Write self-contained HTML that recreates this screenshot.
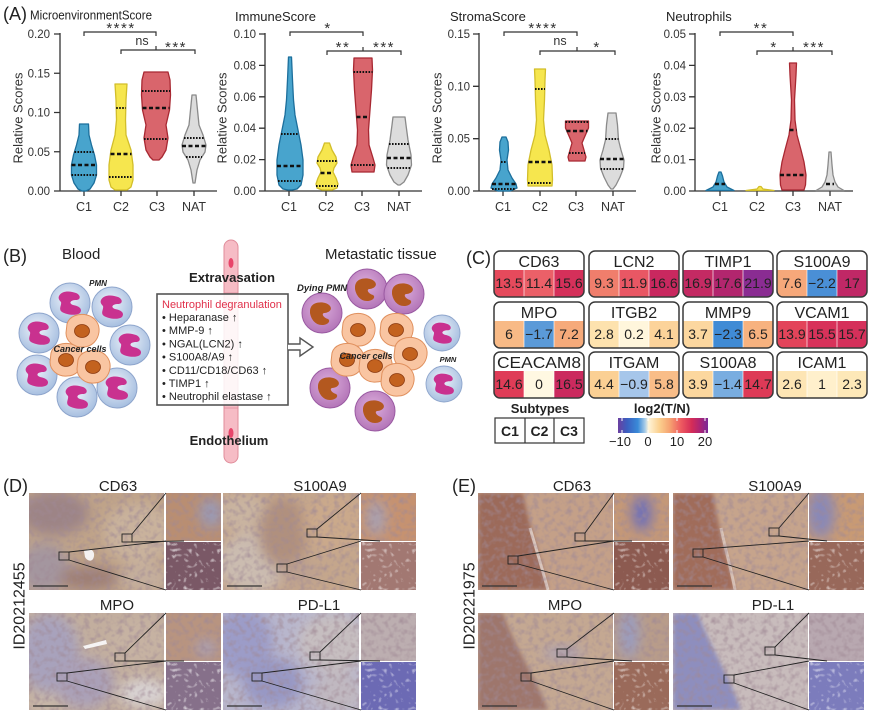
<!DOCTYPE html>
<html><head><meta charset="utf-8">
<style>
html,body{margin:0;padding:0;background:#fff;}
body{width:869px;height:713px;overflow:hidden;}
svg{display:block;font-family:"Liberation Sans",Arial,sans-serif;}
</style></head><body>
<svg width="869" height="713" viewBox="0 0 869 713" xmlns="http://www.w3.org/2000/svg">
<defs>
 <radialGradient id="gb" cx="45%" cy="40%" r="60%"><stop offset="0" stop-color="#eef3fa"/><stop offset="1" stop-color="#a7bfe0"/></radialGradient>
 <radialGradient id="gp" cx="45%" cy="40%" r="60%"><stop offset="0" stop-color="#dcaedc"/><stop offset="1" stop-color="#b476b8"/></radialGradient>
 <linearGradient id="cbar" x1="0" x2="1" y1="0" y2="0">
  <stop offset="0" stop-color="#6b3fa0"/><stop offset="0.1" stop-color="#3b5fc0"/><stop offset="0.22" stop-color="#3a8ad8"/>
  <stop offset="0.3" stop-color="#a8cce8"/><stop offset="0.34" stop-color="#fff4d8"/><stop offset="0.46" stop-color="#fbd08e"/>
  <stop offset="0.58" stop-color="#f5a070"/><stop offset="0.7" stop-color="#ee5a60"/><stop offset="0.82" stop-color="#d42c58"/>
  <stop offset="0.92" stop-color="#a82478"/><stop offset="1" stop-color="#7a2a98"/>
 </linearGradient>
 <filter id="bl" x="-50%" y="-50%" width="200%" height="200%"><feGaussianBlur stdDeviation="6"/></filter>
 <filter id="bl2" x="-20%" y="-20%" width="140%" height="140%"><feGaussianBlur stdDeviation="2"/></filter>
 <filter id="nz" x="0" y="0" width="100%" height="100%">
  <feTurbulence type="fractalNoise" baseFrequency="0.18" numOctaves="2" seed="2"/>
  <feColorMatrix type="matrix" values="0 0 0 0 0.35  0 0 0 0 0.25  0 0 0 0 0.3  1.6 0 0 0 -0.7"/>
 </filter>
 <filter id="spk" x="0" y="0" width="100%" height="100%">
  <feTurbulence type="turbulence" baseFrequency="0.18" numOctaves="1" seed="5"/>
  <feColorMatrix type="matrix" values="0 0 0 0 1  0 0 0 0 1  0 0 0 0 1  3 0 0 0 -0.8"/>
 </filter>
 <g id="pmnB"><circle r="20" fill="url(#gb)" stroke="#8ea5cc" stroke-width="1"/><path d="M-11,-7 C-8,-13 1,-12 6,-10 C11,-8 11,-3 6,-3 C1,-3 -2,0 3,2 C9,3 13,6 10,10 C6,13 -3,12 -8,9 C-12,6 -8,2 -9,-1 C-11,-3 -12,-5 -11,-7 Z" fill="#c9318f"/></g>
 <g id="pmnP"><circle r="20" fill="url(#gp)" stroke="#9a5aa2" stroke-width="1"/><path d="M-11,-6 C-8,-12 4,-12 8,-7 C11,-3 6,0 2,0 C-1,1 2,5 6,6 C9,8 6,12 0,12 C-7,12 -11,6 -12,0 C-12,-3 -12,-4 -11,-6 Z" fill="#b3581f"/></g>
 <g id="cc"><path d="M-15,-7 C-13,-15 -3,-18 5,-16 C13,-14 18,-7 17,1 C16,9 10,16 1,16 C-8,17 -16,10 -16,2 Z" fill="#f9c5a2" stroke="#e0905e" stroke-width="1"/><ellipse cx="0" cy="0" rx="7.5" ry="6.5" fill="#c3621f" stroke="#8c3a10" stroke-width="0.8"/></g>
 <clipPath id="k1"><rect x="494" y="251" width="90" height="46" rx="6"/></clipPath>
 <clipPath id="k2"><rect x="589" y="251" width="90" height="46" rx="6"/></clipPath>
 <clipPath id="k3"><rect x="683" y="251" width="90" height="46" rx="6"/></clipPath>
 <clipPath id="k4"><rect x="777" y="251" width="90" height="46" rx="6"/></clipPath>
 <clipPath id="k5"><rect x="494" y="302" width="90" height="46" rx="6"/></clipPath>
 <clipPath id="k6"><rect x="589" y="302" width="90" height="46" rx="6"/></clipPath>
 <clipPath id="k7"><rect x="683" y="302" width="90" height="46" rx="6"/></clipPath>
 <clipPath id="k8"><rect x="777" y="302" width="90" height="46" rx="6"/></clipPath>
 <clipPath id="k9"><rect x="494" y="352" width="90" height="46" rx="6"/></clipPath>
 <clipPath id="k10"><rect x="589" y="352" width="90" height="46" rx="6"/></clipPath>
 <clipPath id="k11"><rect x="683" y="352" width="90" height="46" rx="6"/></clipPath>
 <clipPath id="k12"><rect x="777" y="352" width="90" height="46" rx="6"/></clipPath>
</defs>

<!-- ================= PANEL A ================= -->
<text x="3" y="20" font-size="18" fill="#222">(A)</text>
<text x="30" y="19.5" font-size="13" fill="#222" textLength="122" lengthAdjust="spacingAndGlyphs">MicroenvironmentScore</text>
<text x="235" y="21" font-size="13" fill="#222">ImmuneScore</text>
<text x="450" y="21" font-size="13" fill="#222">StromaScore</text>
<text x="666" y="21" font-size="13" fill="#222">Neutrophils</text>

<g font-size="13" fill="#333">
 <text transform="translate(18,118) rotate(-90)" text-anchor="middle" dominant-baseline="central">Relative Scores</text>
 <text transform="translate(222,118) rotate(-90)" text-anchor="middle" dominant-baseline="central">Relative Scores</text>
 <text transform="translate(437,118) rotate(-90)" text-anchor="middle" dominant-baseline="central">Relative Scores</text>
 <text transform="translate(656,118) rotate(-90)" text-anchor="middle" dominant-baseline="central">Relative Scores</text>
</g>

<g font-size="11.5" fill="#333" text-anchor="end">
 <text x="50" y="38">0.20</text><text x="50" y="77.3">0.15</text><text x="50" y="116.5">0.10</text><text x="50" y="155.8">0.05</text><text x="50" y="195">0.00</text>
 <text x="256" y="38">0.10</text><text x="256" y="69.4">0.08</text><text x="256" y="100.8">0.06</text><text x="256" y="132.2">0.04</text><text x="256" y="163.6">0.02</text><text x="256" y="195">0.00</text>
 <text x="470" y="38">0.15</text><text x="470" y="90.3">0.10</text><text x="470" y="142.7">0.05</text><text x="470" y="195">0.00</text>
 <text x="686" y="38">0.05</text><text x="686" y="69.4">0.04</text><text x="686" y="100.8">0.03</text><text x="686" y="132.2">0.02</text><text x="686" y="163.6">0.01</text><text x="686" y="195">0.00</text>
</g>

<g stroke="#333" stroke-width="1.3" fill="none">
 <path d="M60,33 V191 H217 M54,34 H60 M54,73.25 H60 M54,112.5 H60 M54,151.75 H60 M54,191 H60 M84,191 V196 M121,191 V196 M157,191 V196 M194,191 V196"/>
 <path d="M265,33 V191 H422 M259,34 H265 M259,65.4 H265 M259,96.8 H265 M259,128.2 H265 M259,159.6 H265 M259,191 H265 M289,191 V196 M326,191 V196 M362,191 V196 M399,191 V196"/>
 <path d="M479,33 V191 H636 M473,34 H479 M473,86.3 H479 M473,138.7 H479 M473,191 H479 M503,191 V196 M540,191 V196 M576,191 V196 M613,191 V196"/>
 <path d="M695,33 V191 H853 M689,34 H695 M689,65.4 H695 M689,96.8 H695 M689,128.2 H695 M689,159.6 H695 M689,191 H695 M720,191 V196 M757,191 V196 M793,191 V196 M830,191 V196"/>
</g>

<g font-size="12.5" fill="#333" text-anchor="middle">
 <text x="84" y="211">C1</text><text x="121" y="211">C2</text><text x="157" y="211">C3</text><text x="194" y="211">NAT</text>
 <text x="289" y="211">C1</text><text x="326" y="211">C2</text><text x="362" y="211">C3</text><text x="399" y="211">NAT</text>
 <text x="503" y="211">C1</text><text x="540" y="211">C2</text><text x="576" y="211">C3</text><text x="613" y="211">NAT</text>
 <text x="720" y="211">C1</text><text x="757" y="211">C2</text><text x="793" y="211">C3</text><text x="830" y="211">NAT</text>
</g>

<!-- brackets -->
<g stroke="#333" stroke-width="1.2" fill="none">
 <path d="M84,36 V32 H156 V36"/><path d="M121,54 V50 H195 V54 M156,50 V46"/>
 <path d="M290,36 V32 H363 V36"/><path d="M327,55 V51 H401 V55 M363,51 V47"/>
 <path d="M504,36 V32 H577 V36"/><path d="M540,55 V51 H615 V55 M577,51 V47"/>
 <path d="M720,36 V32 H793 V36"/><path d="M757,55 V51 H832 V55 M793,51 V47"/>
</g>
<g font-size="15" fill="#333" text-anchor="middle" letter-spacing="1.5">
 <text x="121" y="33">****</text><text x="176" y="52">***</text>
 <text x="328" y="33">*</text><text x="343" y="52">**</text><text x="384" y="52">***</text>
 <text x="543" y="33">****</text><text x="597" y="52">*</text>
 <text x="761" y="33">**</text><text x="774" y="52">*</text><text x="814" y="52">***</text>
</g>
<g font-size="12.5" fill="#333" text-anchor="middle">
 <text x="142" y="45">ns</text><text x="560" y="45">ns</text>
</g>

<!-- violins -->
<g stroke-width="1.3" stroke-linejoin="round">
 <path fill="#48a4cd" stroke="#1c6f9c" d="M79.5,124 L79,135 76.5,145 73.5,155 71.5,165 71.5,175 74,183 78,189 82,191 86,191 90,189 94,183 96.5,175 96.5,165 94.5,155 91.5,145 89,135 88.5,124 Z"/>
 <path fill="#f6e64e" stroke="#d2be2a" d="M115,84 L116,100 116.5,120 115,135 111,150 109,165 109,180 111,187 115,190 127,190 131,187 133,180 133,165 131,150 126,135 125.5,120 126,100 127,84 Z"/>
 <path fill="#d9656c" stroke="#a82832" d="M144,72 L142,80 141.5,95 142.5,110 146,125 144,138 146,150 150,157 153,160 159,160 162,157 166,150 168,138 166,125 169.5,110 170.5,95 170,80 168,72 Z"/>
 <path fill="#dcdcdc" stroke="#8a8a8a" d="M192,95 L190.5,110 189,125 185,135 182,145 183,152 188,160 191,170 193,183 195,183 197,170 200,160 205,152 206,145 203,135 199,125 197.5,110 196,95 Z"/>

 <path fill="#48a4cd" stroke="#1c6f9c" d="M288.5,57 L287.5,80 286.5,100 285,115 282,130 279,145 277,160 277,175 279,185 283,189 288,190 292,190 297,189 301,185 303,175 303,160 301,145 298,130 295,115 293.5,100 292.5,80 291.5,57 Z"/>
 <path fill="#f6e64e" stroke="#d2be2a" d="M324.5,143 L322,150 318,157 317,163 320,168 321,172 318,178 316,184 317,188 322,190 332,190 337,188 338,184 336,178 333,172 334,168 337,163 336,157 332,150 329.5,143 Z"/>
 <path fill="#d9656c" stroke="#a82832" d="M354,58 L353.5,70 354.5,90 356,110 357.5,130 357,145 353,158 351,165 352,172 374,172 375,165 373,158 369,145 368.5,130 370,110 371.5,90 372.5,70 372,58 Z"/>
 <path fill="#dcdcdc" stroke="#8a8a8a" d="M393,117 L392,125 390,140 387,155 386.5,165 390,175 394,182 398,185 400,185 404,182 408,175 411.5,165 411,155 408,140 406,125 405,117 Z"/>

 <path fill="#48a4cd" stroke="#1c6f9c" transform="translate(-5,0)" d="M507,137 L505,142 504.5,150 506,160 505,170 501,178 497,184 496,188 503,191 515,191 522,188 521,184 517,178 513,170 512,160 513.5,150 513,142 511,137 Z"/>
 <path fill="#f6e64e" stroke="#d2be2a" d="M534.5,69 L535,80 535.5,100 536.5,120 535,135 531,150 528,165 527.5,180 528,186 552,186 552.5,180 552,165 549,150 545,135 543.5,120 544.5,100 545,80 545.5,69 Z"/>
 <path fill="#d9656c" stroke="#a82832" d="M565.5,121 L565.5,128 569,136 572,143 570,150 568,157 569,161 585,161 586,157 584,150 582,143 585,136 588.5,128 588.5,121 Z"/>
 <path fill="#dcdcdc" stroke="#8a8a8a" d="M608,113 L606.5,125 605.5,140 603,150 600,160 600.5,168 604,177 608,185 611,189 613,189 616,185 620,177 623.5,168 624,160 621,150 618.5,140 617.5,125 616,113 Z"/>

 <path fill="#48a4cd" stroke="#1c6f9c" d="M719,172 L717.5,176 716,182 713,187 706,190.5 734,190.5 727,187 724,182 722.5,176 721,172 Z"/>
 <path fill="#f6e64e" stroke="#d2be2a" d="M746,190.5 L757,189 759,186.5 761,186.5 763,189 774,190.5 Z"/>
 <path fill="#d9656c" stroke="#a82832" d="M789.5,63 L790,75 791.5,100 791,120 789,135 785,150 782,162 780,175 780.5,185 782,190 804,190 805.5,185 806,175 804,162 801,150 797,135 795,120 794.5,100 796,75 796.5,63 Z"/>
 <path fill="#dcdcdc" stroke="#8a8a8a" d="M829,152 L828,165 827,175 825,182 822,187 816,190.5 844,190.5 838,187 835,182 833,175 832,165 831,152 Z"/>
</g>
<!-- quartile lines -->
<g stroke="#111" fill="none">
 <path stroke-width="2" stroke-dasharray="1.6 1.4" d="M74.5,152 H93.5 M71.5,175 H96.5 M116.2,108 H125.8 M109,177 H133 M142,91 H170 M144,139 H168 M184,138 H204 M186,157 H202
 M281,134 H299 M278,181 H302 M317,161 H337 M316,186 H338 M353.5,72 H372.5 M351,165 H375 M389,144 H409 M387.5,168 H410.5
 M501,162 H507 M492,189 H516 M535,89 H545 M528,183 H552 M565.5,122 H588.5 M569,153 H585 M605.5,139 H618.5 M600.5,169 H623.5"/>
 <path stroke-width="2.6" stroke-dasharray="4 2.5" d="M71.5,165 H96.5 M110.5,154 H131.5 M142.5,108 H169.5 M182,146 H206
 M277,166 H303 M320.5,173 H333.5 M356.5,117 H369.5 M387,158 H411
 M492,184 H516 M528.5,162 H551.5 M566.5,131 H587.5 M600,159 H624
 M715,184 H725 M789.5,130 H796.5 M780,175 H806 M826,184 H834"/>
</g>

<!-- ================= PANEL B ================= -->
<text x="3" y="262" font-size="18" fill="#222">(B)</text>
<text x="62" y="259" font-size="15" fill="#222">Blood</text>
<text x="325" y="259" font-size="15" fill="#222">Metastatic tissue</text>

<!-- vessel -->
<rect x="224" y="240" width="14" height="223" rx="7" fill="#f6bcc5" stroke="#e08c9a" stroke-width="1"/>
<line x1="224" y1="293" x2="238" y2="293" stroke="#e08c9a" stroke-width="0.8"/>
<line x1="224" y1="408" x2="238" y2="408" stroke="#e08c9a" stroke-width="0.8"/>
<ellipse cx="231" cy="263" rx="2.5" ry="5" fill="#e8456a"/>
<ellipse cx="231" cy="433" rx="2.5" ry="5" fill="#e8456a"/>
<text x="232" y="282" font-size="13" font-weight="bold" fill="#222" text-anchor="middle" textLength="86" lengthAdjust="spacingAndGlyphs">Extravasation</text>
<text x="229" y="445" font-size="13" font-weight="bold" fill="#222" text-anchor="middle">Endothelium</text>

<!-- box -->
<rect x="157" y="294" width="131" height="111" fill="#fff" fill-opacity="0.86" stroke="#555" stroke-width="1.6"/>
<text x="162" y="308" font-size="11" fill="#e0304a">Neutrophil degranulation</text>
<g font-size="11" fill="#222">
 <text x="162" y="321">• Heparanase ↑</text>
 <text x="162" y="334">• MMP-9 ↑</text>
 <text x="162" y="347.5">• NGAL(LCN2) ↑</text>
 <text x="162" y="360.5">• S100A8/A9 ↑</text>
 <text x="162" y="374">• CD11/CD18/CD63 ↑</text>
 <text x="162" y="387">• TIMP1 ↑</text>
 <text x="162" y="400">• Neutrophil elastase ↑</text>
</g>
<path d="M288,344 H300 V338 L313,347 L300,356 V350 H288" fill="#fff" stroke="#555" stroke-width="1.4"/>

<!-- left cluster -->
<use href="#pmnB" transform="translate(70,303)"/>
<use href="#pmnB" transform="translate(112,307)"/>
<use href="#pmnB" transform="translate(39,333)"/>
<use href="#pmnB" transform="translate(130,345)"/>
<use href="#pmnB" transform="translate(37,375)"/>
<use href="#pmnB" transform="translate(77,397)"/>
<use href="#pmnB" transform="translate(117,388)"/>
<use href="#cc" transform="translate(82,331)"/>
<use href="#cc" transform="translate(66,360)"/>
<use href="#cc" transform="translate(93,367)"/>
<text x="98" y="286" font-size="8" font-weight="bold" font-style="italic" fill="#222" text-anchor="middle">PMN</text>
<text x="80" y="352" font-size="9" font-weight="bold" font-style="italic" fill="#222" text-anchor="middle">Cancer cells</text>

<!-- right cluster -->
<use href="#pmnP" transform="translate(322,313)"/>
<use href="#pmnP" transform="translate(367,289)"/>
<use href="#pmnP" transform="translate(404,294)"/>
<use href="#pmnP" transform="translate(330,388)"/>
<use href="#pmnP" transform="translate(375,411)"/>
<use href="#pmnB" transform="translate(442,333) scale(0.9)"/>
<use href="#pmnB" transform="translate(444,384) scale(0.9)"/>
<use href="#cc" transform="translate(358,330)"/>
<use href="#cc" transform="translate(396,330)"/>
<use href="#cc" transform="translate(410,354)"/>
<use href="#cc" transform="translate(347,360)"/>
<use href="#cc" transform="translate(375,366)"/>
<use href="#cc" transform="translate(397,380)"/>
<text x="297" y="291" font-size="9.5" font-weight="bold" font-style="italic" fill="#222">Dying PMN</text>
<text x="366" y="359" font-size="9" font-weight="bold" font-style="italic" fill="#222" text-anchor="middle">Cancer cells</text>
<text x="448" y="362" font-size="7.5" font-weight="bold" font-style="italic" fill="#222" text-anchor="middle">PMN</text>

<!-- ================= PANEL C ================= -->
<text x="466" y="264" font-size="18" fill="#222">(C)</text>
<g>
 <g clip-path="url(#k1)"><rect x="494" y="270" width="30" height="28" fill="#e64a5c"/><rect x="524" y="270" width="30" height="28" fill="#eb6068"/><rect x="554" y="270" width="30" height="28" fill="#d5305a"/></g>
 <g clip-path="url(#k2)"><rect x="589" y="270" width="30" height="28" fill="#f07e6c"/><rect x="619" y="270" width="30" height="28" fill="#e95764"/><rect x="649" y="270" width="30" height="28" fill="#c9285f"/></g>
 <g clip-path="url(#k3)"><rect x="683" y="270" width="30" height="28" fill="#c42a63"/><rect x="713" y="270" width="30" height="28" fill="#b2266e"/><rect x="743" y="270" width="30" height="28" fill="#8a2c92"/></g>
 <g clip-path="url(#k4)"><rect x="777" y="270" width="30" height="28" fill="#f6a87a"/><rect x="807" y="270" width="30" height="28" fill="#4a8fd6"/><rect x="837" y="270" width="30" height="28" fill="#c02866"/></g>
 <g clip-path="url(#k5)"><rect x="494" y="321" width="30" height="28" fill="#f8ba86"/><rect x="524" y="321" width="30" height="28" fill="#5b9ad8"/><rect x="554" y="321" width="30" height="28" fill="#f6aa7a"/></g>
 <g clip-path="url(#k6)"><rect x="589" y="321" width="30" height="28" fill="#fde2ae"/><rect x="619" y="321" width="30" height="28" fill="#fff6dc"/><rect x="649" y="321" width="30" height="28" fill="#fcd39a"/></g>
 <g clip-path="url(#k7)"><rect x="683" y="321" width="30" height="28" fill="#fcd79f"/><rect x="713" y="321" width="30" height="28" fill="#408bd5"/><rect x="743" y="321" width="30" height="28" fill="#f7b27f"/></g>
 <g clip-path="url(#k8)"><rect x="777" y="321" width="30" height="28" fill="#e3445a"/><rect x="807" y="321" width="30" height="28" fill="#d8325a"/><rect x="837" y="321" width="30" height="28" fill="#d5305a"/></g>
 <g clip-path="url(#k9)"><rect x="494" y="371" width="30" height="28" fill="#df3c57"/><rect x="524" y="371" width="30" height="28" fill="#fff8e2"/><rect x="554" y="371" width="30" height="28" fill="#cb2a5e"/></g>
 <g clip-path="url(#k10)"><rect x="589" y="371" width="30" height="28" fill="#fbd094"/><rect x="619" y="371" width="30" height="28" fill="#a6c6ea"/><rect x="649" y="371" width="30" height="28" fill="#f9bd88"/></g>
 <g clip-path="url(#k11)"><rect x="683" y="371" width="30" height="28" fill="#fcd79e"/><rect x="713" y="371" width="30" height="28" fill="#79ade0"/><rect x="743" y="371" width="30" height="28" fill="#de3a57"/></g>
 <g clip-path="url(#k12)"><rect x="777" y="371" width="30" height="28" fill="#fde5b4"/><rect x="807" y="371" width="30" height="28" fill="#fff0cc"/><rect x="837" y="371" width="30" height="28" fill="#fde8b8"/></g>
</g>
<g stroke="#fff" stroke-width="0.8" opacity="0.8">
 <path d="M524,270 V297 M554,270 V297 M619,270 V297 M649,270 V297 M713,270 V297 M743,270 V297 M807,270 V297 M837,270 V297"/>
 <path d="M524,321 V348 M554,321 V348 M619,321 V348 M649,321 V348 M713,321 V348 M743,321 V348 M807,321 V348 M837,321 V348"/>
 <path d="M524,371 V398 M554,371 V398 M619,371 V398 M649,371 V398 M713,371 V398 M743,371 V398 M807,371 V398 M837,371 V398"/>
</g>
<g fill="none" stroke="#3a3a3a" stroke-width="1.5">
 <rect x="494" y="251" width="90" height="46" rx="6"/><rect x="589" y="251" width="90" height="46" rx="6"/><rect x="683" y="251" width="90" height="46" rx="6"/><rect x="777" y="251" width="90" height="46" rx="6"/>
 <rect x="494" y="302" width="90" height="46" rx="6"/><rect x="589" y="302" width="90" height="46" rx="6"/><rect x="683" y="302" width="90" height="46" rx="6"/><rect x="777" y="302" width="90" height="46" rx="6"/>
 <rect x="494" y="352" width="90" height="46" rx="6"/><rect x="589" y="352" width="90" height="46" rx="6"/><rect x="683" y="352" width="90" height="46" rx="6"/><rect x="777" y="352" width="90" height="46" rx="6"/>
</g>
<g font-size="16" fill="#222" text-anchor="middle">
 <text x="539" y="267">CD63</text><text x="634" y="267">LCN2</text><text x="728" y="267">TIMP1</text><text x="822" y="267">S100A9</text>
 <text x="539" y="318">MPO</text><text x="634" y="318">ITGB2</text><text x="728" y="318">MMP9</text><text x="822" y="318">VCAM1</text>
 <text x="539" y="368" textLength="84" lengthAdjust="spacingAndGlyphs">CEACAM8</text><text x="634" y="368">ITGAM</text><text x="728" y="368">S100A8</text><text x="822" y="368">ICAM1</text>
</g>
<g font-size="14" fill="#222" text-anchor="middle">
 <text x="509" y="288">13.5</text><text x="539" y="288">11.4</text><text x="569" y="288">15.6</text>
 <text x="604" y="288">9.3</text><text x="634" y="288">11.9</text><text x="664" y="288">16.6</text>
 <text x="698" y="288">16.9</text><text x="728" y="288">17.6</text><text x="758" y="288">21.9</text>
 <text x="792" y="288">7.6</text><text x="822" y="288">−2.2</text><text x="852" y="288">17</text>
 <text x="509" y="339">6</text><text x="539" y="339">−1.7</text><text x="569" y="339">7.2</text>
 <text x="604" y="339">2.8</text><text x="634" y="339">0.2</text><text x="664" y="339">4.1</text>
 <text x="698" y="339">3.7</text><text x="728" y="339">−2.3</text><text x="758" y="339">6.5</text>
 <text x="792" y="339">13.9</text><text x="822" y="339">15.5</text><text x="852" y="339">15.7</text>
 <text x="509" y="389">14.6</text><text x="539" y="389">0</text><text x="569" y="389">16.5</text>
 <text x="604" y="389">4.4</text><text x="634" y="389">−0.9</text><text x="664" y="389">5.8</text>
 <text x="698" y="389">3.9</text><text x="728" y="389">−1.4</text><text x="758" y="389">14.7</text>
 <text x="792" y="389">2.6</text><text x="822" y="389">1</text><text x="852" y="389">2.3</text>
</g>
<!-- legends -->
<text x="540" y="413" font-size="13" font-weight="bold" fill="#222" text-anchor="middle">Subtypes</text>
<rect x="495" y="418" width="89" height="25" fill="#fff" stroke="#333" stroke-width="1.2"/>
<path d="M525,418 V443 M554,418 V443" stroke="#333" stroke-width="1.2"/>
<g font-size="14" font-weight="bold" fill="#222" text-anchor="middle">
 <text x="510" y="436">C1</text><text x="539.5" y="436">C2</text><text x="569" y="436">C3</text>
</g>
<text x="662" y="413" font-size="13" font-weight="bold" fill="#222" text-anchor="middle">log2(T/N)</text>
<rect x="618" y="418" width="90" height="15" fill="url(#cbar)"/>
<path d="M622,418 V421 M648,418 V421 M677,418 V421 M705,418 V421 M622,433 V430 M648,433 V430 M677,433 V430 M705,433 V430" stroke="#fff" stroke-width="1"/>
<g font-size="13" fill="#222" text-anchor="middle">
 <text x="620" y="446">−10</text><text x="648" y="446">0</text><text x="677" y="446">10</text><text x="705" y="446">20</text>
</g>

<!-- ================= PANEL D / E ================= -->
<text x="3" y="492" font-size="18" fill="#222">(D)</text>
<text x="452" y="492" font-size="18" fill="#222">(E)</text>
<g font-size="15" fill="#222" text-anchor="middle">
 <text x="118" y="491">CD63</text><text x="320" y="491">S100A9</text>
 <text x="117" y="610">MPO</text><text x="319" y="610">PD-L1</text>
 <text x="572" y="491">CD63</text><text x="775" y="491">S100A9</text>
 <text x="565" y="610">MPO</text><text x="773" y="610">PD-L1</text>
 <text transform="translate(20,606) rotate(-90)" dominant-baseline="central" font-size="16">ID20212455</text>
 <text transform="translate(470,606) rotate(-90)" dominant-baseline="central" font-size="16">ID20221975</text>
</g>

<!-- D CD63 -->
<svg x="29" y="493" width="135" height="97"><rect width="135" height="97" fill="#bfa389"/>
 <g filter="url(#bl)"><ellipse cx="25" cy="20" rx="35" ry="22" fill="#9d8486"/><ellipse cx="15" cy="75" rx="25" ry="25" fill="#a4969f"/><ellipse cx="60" cy="85" rx="30" ry="12" fill="#9e7f76"/><ellipse cx="110" cy="40" rx="35" ry="30" fill="#c9b29c"/><ellipse cx="115" cy="85" rx="25" ry="15" fill="#c4ae9c"/></g>
 <rect width="135" height="97" filter="url(#nz)"/>
 <path d="M55,58 C60,54 66,57 65,63 C64,70 58,68 56,64 Z" fill="#f4f2f2"/>
 <path d="M4,93 H39" stroke="#333" stroke-width="1.2"/></svg>
<svg x="166" y="493" width="55" height="48"><rect width="55" height="48" fill="#b98e72"/><g filter="url(#bl)"><ellipse cx="45" cy="20" rx="12" ry="15" fill="#9a9ab5"/></g><rect width="55" height="48" filter="url(#nz)"/></svg>
<svg x="166" y="542" width="55" height="48"><rect width="55" height="48" fill="#7a5866"/><rect width="55" height="48" filter="url(#spk)" opacity="0.75"/></svg>

<!-- D S100A9 -->
<svg x="223" y="493" width="136" height="97"><rect width="136" height="97" fill="#c4a68c"/>
 <g filter="url(#bl)"><ellipse cx="30" cy="70" rx="35" ry="30" fill="#cbbcb0"/><ellipse cx="20" cy="20" rx="25" ry="20" fill="#c9b4a0"/><ellipse cx="60" cy="40" rx="25" ry="35" fill="#b0907e"/><ellipse cx="75" cy="80" rx="20" ry="12" fill="#bca090"/><ellipse cx="110" cy="30" rx="30" ry="30" fill="#caa98b"/></g>
 <rect width="136" height="97" filter="url(#nz)"/>
 <path d="M4,93 H39" stroke="#333" stroke-width="1.2"/></svg>
<svg x="361" y="493" width="55" height="48"><rect width="55" height="48" fill="#c69270"/><g filter="url(#bl)"><ellipse cx="15" cy="25" rx="10" ry="18" fill="#a9a0b0"/></g><rect width="55" height="48" filter="url(#nz)"/></svg>
<svg x="361" y="542" width="55" height="48"><rect width="55" height="48" fill="#a27872"/><rect width="55" height="48" filter="url(#spk)" opacity="0.6"/></svg>

<!-- D MPO -->
<svg x="29" y="613" width="135" height="97"><rect width="135" height="97" fill="#c2ae9e"/>
 <g filter="url(#bl)"><ellipse cx="20" cy="40" rx="30" ry="40" fill="#a8a2bc"/><ellipse cx="55" cy="70" rx="30" ry="25" fill="#aaa0b8"/><ellipse cx="15" cy="90" rx="15" ry="10" fill="#c8b8a8"/><ellipse cx="110" cy="30" rx="30" ry="25" fill="#c6b2a2"/><ellipse cx="115" cy="80" rx="25" ry="14" fill="#d8d2d2"/></g>
 <rect width="135" height="97" filter="url(#nz)"/>
 <path d="M54,33 L77,27 L78,31 L56,36 Z" fill="#f6f4f4"/>
 <path d="M4,93 H39" stroke="#333" stroke-width="1.2"/></svg>
<svg x="166" y="613" width="55" height="48"><rect width="55" height="48" fill="#b89480"/><g filter="url(#bl)"><ellipse cx="40" cy="35" rx="10" ry="8" fill="#a8a0b8"/></g><rect width="55" height="48" filter="url(#nz)"/></svg>
<svg x="166" y="662" width="55" height="48"><rect width="55" height="48" fill="#86708a"/><rect width="55" height="48" filter="url(#spk)" opacity="0.7"/></svg>

<!-- D PD-L1 -->
<svg x="223" y="613" width="136" height="97"><rect width="136" height="97" fill="#b8b6cc"/>
 <g filter="url(#bl)"><ellipse cx="20" cy="30" rx="30" ry="35" fill="#9c9cc8"/><ellipse cx="50" cy="70" rx="30" ry="25" fill="#9898c4"/><ellipse cx="110" cy="30" rx="35" ry="30" fill="#c6bec0"/><ellipse cx="115" cy="80" rx="25" ry="20" fill="#c0b8c0"/></g>
 <rect width="136" height="97" filter="url(#nz)"/>
 <path d="M4,93 H39" stroke="#333" stroke-width="1.2"/></svg>
<svg x="361" y="613" width="55" height="48"><rect width="55" height="48" fill="#bcaeb0"/><rect width="55" height="48" filter="url(#nz)"/></svg>
<svg x="361" y="662" width="55" height="48"><rect width="55" height="48" fill="#6c6ab4"/><rect width="55" height="48" filter="url(#spk)" opacity="0.6"/></svg>

<!-- E CD63 -->
<svg x="478" y="493" width="135" height="97"><rect width="135" height="97" fill="#c4a088"/>
 <path d="M0,0 L45,0 C50,30 62,60 70,97 L0,97 Z" fill="#9c6a5a" filter="url(#bl2)"/>
 <path d="M52,35 C58,55 64,75 70,97" stroke="#ece4e0" stroke-width="3" opacity="0.7" fill="none"/>
 <rect width="135" height="97" filter="url(#nz)"/>
 <path d="M4,93 H39" stroke="#333" stroke-width="1.2"/></svg>
<svg x="614" y="493" width="55" height="48"><rect width="55" height="48" fill="#c49878"/><g filter="url(#bl)"><ellipse cx="28" cy="20" rx="10" ry="18" fill="#6e70b8"/></g><rect width="55" height="48" filter="url(#nz)"/></svg>
<svg x="614" y="542" width="55" height="48"><rect width="55" height="48" fill="#8c5a50"/><rect width="55" height="48" filter="url(#spk)" opacity="0.6"/></svg>

<!-- E S100A9 -->
<svg x="673" y="493" width="135" height="97"><rect width="135" height="97" fill="#c6a48c"/>
 <path d="M0,0 L40,0 C45,35 55,65 62,97 L0,97 Z" fill="#a06c5a" filter="url(#bl2)"/>
 <path d="M48,35 C52,55 58,75 62,97" stroke="#ece4e0" stroke-width="3" opacity="0.6" fill="none"/>
 <rect width="135" height="97" filter="url(#nz)"/>
 <path d="M4,93 H39" stroke="#333" stroke-width="1.2"/></svg>
<svg x="809" y="493" width="55" height="48"><rect width="55" height="48" fill="#c89a74"/><g filter="url(#bl)"><ellipse cx="12" cy="20" rx="14" ry="25" fill="#8888b8"/></g><rect width="55" height="48" filter="url(#nz)"/></svg>
<svg x="809" y="542" width="55" height="48"><rect width="55" height="48" fill="#98685a"/><rect width="55" height="48" filter="url(#spk)" opacity="0.6"/></svg>

<!-- E MPO -->
<svg x="478" y="613" width="135" height="97"><rect width="135" height="97" fill="#c4a892"/>
 <path d="M0,0 L25,0 C35,30 55,60 70,97 L0,97 Z" fill="#9e766c" filter="url(#bl2)"/>
 <g filter="url(#bl)"><ellipse cx="85" cy="40" rx="20" ry="6" fill="#a8a0b8"/></g>
 <rect width="135" height="97" filter="url(#nz)"/>
 <path d="M4,93 H39" stroke="#333" stroke-width="1.2"/></svg>
<svg x="614" y="613" width="55" height="48"><rect width="55" height="48" fill="#b89c8a"/><g filter="url(#bl)"><ellipse cx="15" cy="20" rx="10" ry="25" fill="#9a9cc0"/></g><rect width="55" height="48" filter="url(#nz)"/></svg>
<svg x="614" y="662" width="55" height="48"><rect width="55" height="48" fill="#9a6a5a"/><rect width="55" height="48" filter="url(#spk)" opacity="0.6"/></svg>

<!-- E PD-L1 -->
<svg x="673" y="613" width="135" height="97"><rect width="135" height="97" fill="#c8bcbc"/>
 <path d="M0,0 L25,0 C35,30 55,60 68,97 L0,97 Z" fill="#8e8ebe" filter="url(#bl2)"/>
 <rect width="135" height="97" filter="url(#nz)"/>
 <path d="M4,93 H39" stroke="#333" stroke-width="1.2"/></svg>
<svg x="809" y="613" width="55" height="48"><rect width="55" height="48" fill="#b8a8b0"/><rect width="55" height="48" filter="url(#nz)"/></svg>
<svg x="809" y="662" width="55" height="48"><rect width="55" height="48" fill="#7c7cbc"/><rect width="55" height="48" filter="url(#spk)" opacity="0.6"/></svg>

<!-- zoom squares & lines -->
<g fill="none" stroke="#222" stroke-width="0.9">
 <rect x="122" y="534" width="10" height="8"/><rect x="59" y="552" width="10" height="8"/>
 <path d="M132,534 L166,493 M132,542 L184,541 M69,552 L166,541 M69,560 L166,590"/>
 <rect x="307" y="529" width="10" height="8"/><rect x="277" y="564" width="10" height="8"/>
 <path d="M317,529 L361,493 M317,537 L380,541 M287,564 L361,541 M287,572 L361,590"/>
 <rect x="115" y="653" width="10" height="8"/><rect x="57" y="673" width="10" height="8"/>
 <path d="M125,653 L166,613 M125,661 L184,661 M67,673 L166,661 M67,681 L166,710"/>
 <rect x="310" y="652" width="10" height="8"/><rect x="252" y="673" width="10" height="8"/>
 <path d="M320,652 L361,613 M320,660 L380,661 M262,673 L361,661 M262,681 L361,710"/>
 <rect x="575" y="533" width="10" height="8"/><rect x="508" y="556" width="10" height="8"/>
 <path d="M585,533 L614,493 M585,541 L632,541 M518,556 L614,541 M518,564 L614,590"/>
 <rect x="769" y="528" width="10" height="8"/><rect x="693" y="549" width="10" height="8"/>
 <path d="M779,528 L809,493 M779,536 L827,541 M703,549 L809,541 M703,557 L809,590"/>
 <rect x="557" y="649" width="10" height="8"/><rect x="521" y="673" width="10" height="8"/>
 <path d="M567,649 L614,613 M567,657 L632,661 M531,673 L614,661 M531,681 L614,710"/>
 <rect x="765" y="647" width="10" height="8"/><rect x="724" y="675" width="10" height="8"/>
 <path d="M775,647 L809,613 M775,655 L827,661 M734,675 L809,661 M734,683 L809,710"/>
</g>
</svg>
</body></html>
